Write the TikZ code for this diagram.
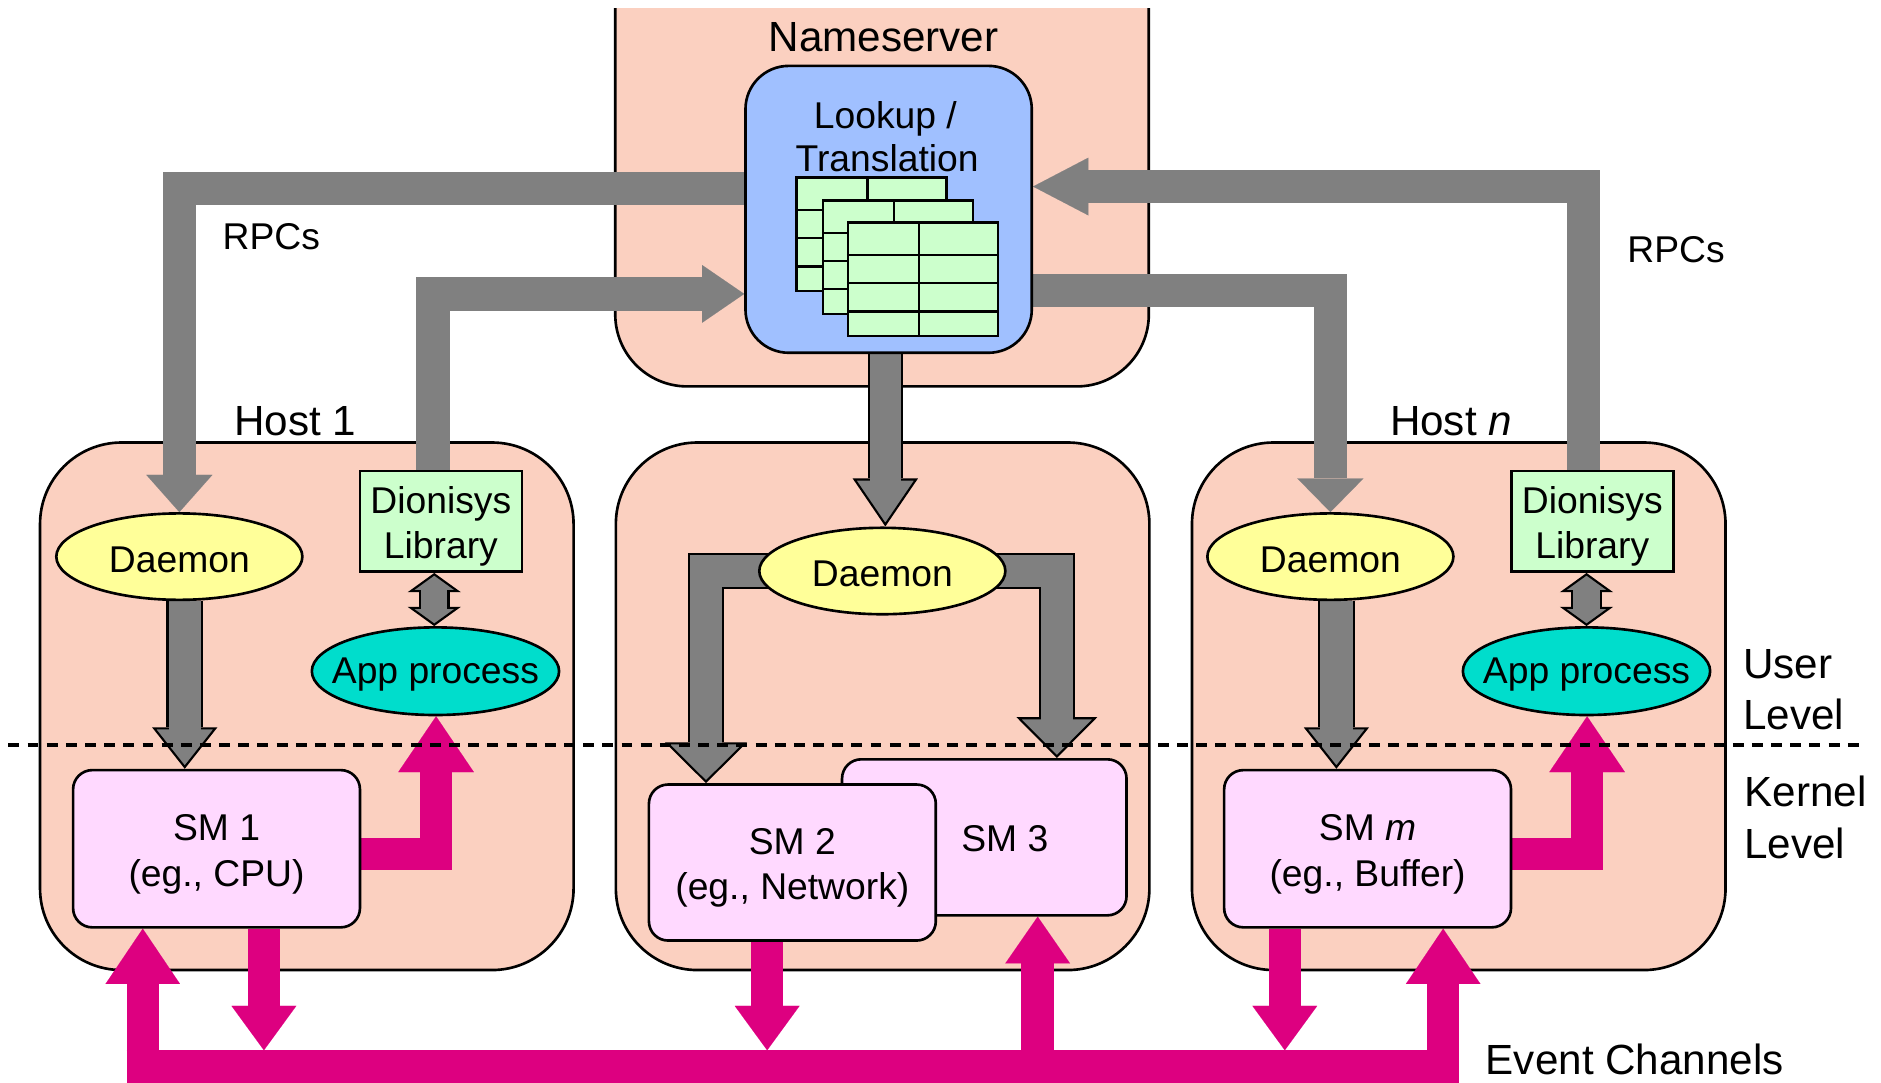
\documentclass[tikz,border=0pt]{standalone}
\usepackage{fontspec}
\setmainfont{Liberation Sans}
\usetikzlibrary{arrows.meta,shapes.geometric,calc}

\definecolor{hostpink}{RGB}{251,208,192}
\definecolor{lookupblue}{RGB}{160,192,255}
\definecolor{tablegreen}{RGB}{204,255,204}
\definecolor{daemonyellow}{RGB}{255,255,153}
\definecolor{appteal}{RGB}{0,221,204}
\definecolor{smpink}{RGB}{255,217,255}
\definecolor{arrowgray}{RGB}{128,128,128}
\definecolor{evmagenta}{RGB}{221,0,128}

\pgfdeclarelayer{boxes}
\pgfdeclarelayer{links}
\pgfdeclarelayer{over}
\pgfsetlayers{boxes,links,main,over}

\newcommand\bodyfont{\fontsize{10.6}{12.6}\selectfont}
\newcommand\headfont{\fontsize{12}{14.5}\selectfont}

% block arrow without outline: #1 colour, #2 shaft, #3 tip length, #4 tip width (drawing units), #5 path
\newcommand\plainarrow[5]{%
  \pgfmathsetmacro\arSW{#2*0.34143}%
  \pgfmathsetmacro\arTL{#3*0.34143}%
  \pgfmathsetmacro\arTW{#4*0.34143}%
  \draw[#1, line width=\arSW pt, line join=miter,
        -{Triangle[length=\arTL pt, width=\arTW pt, line width=0.01pt]}] #5;
}
% grey block arrow with a thin black outline
\newcommand\outlinedarrow[4]{%
  \pgfmathsetmacro\arSW{#1*0.34143}%
  \pgfmathsetmacro\arTL{#2*0.34143}%
  \pgfmathsetmacro\arTW{#3*0.34143}%
  \draw[black, line width=\arSW pt+1.2pt, line join=miter, shorten >=\arTL pt] #4;
  \draw[black, line width=\arSW pt, line join=miter,
        -{Triangle[length=\arTL pt, width=\arTW pt, line width=0.6pt, fill=arrowgray]}] #4;
  \draw[arrowgray, line width=\arSW pt, line join=miter, shorten >=\arTL pt-1.2pt] #4;
}
% outlined grey arrow with a head at both ends
\newcommand\outlineddouble[4]{%
  \pgfmathsetmacro\arSW{#1*0.34143}%
  \pgfmathsetmacro\arTL{#2*0.34143}%
  \pgfmathsetmacro\arTW{#3*0.34143}%
  \draw[black, line width=\arSW pt+1.2pt, shorten >=\arTL pt, shorten <=\arTL pt] #4;
  \draw[black, line width=\arSW pt,
        {Triangle[length=\arTL pt, width=\arTW pt, line width=0.6pt, fill=arrowgray]}-{Triangle[length=\arTL pt, width=\arTW pt, line width=0.6pt, fill=arrowgray]}] #4;
  \draw[arrowgray, line width=\arSW pt, shorten >=\arTL pt-1.2pt, shorten <=\arTL pt-1.2pt] #4;
}
% inner rules of a translation table
\newcommand\tablerules[1]{%
  \draw[line width=0.7pt] ([xshift=0.72cm]#1.north west) -- ([xshift=0.72cm]#1.south west);
  \foreach \rowy in {0.336,0.618,0.9}{%
    \draw[line width=0.7pt] ([yshift=-\rowy cm]#1.north west) -- ([yshift=-\rowy cm]#1.north east);}
}

\begin{document}
\begin{tikzpicture}[x=0.012cm, y=-0.012cm,
  hostbox/.style={draw=black, line width=0.75pt, fill=hostpink, rounded corners=0.816cm,
    minimum width=5.334cm, minimum height=5.274cm, inner sep=0pt},
  lookupbox/.style={draw=black, line width=0.75pt, fill=lookupblue, rounded corners=0.432cm,
    minimum width=2.862cm, minimum height=2.868cm, inner sep=0pt},
  tbl/.style={draw=black, line width=0.7pt, fill=tablegreen, anchor=north west,
    minimum width=1.5cm, minimum height=1.134cm, inner sep=0pt},
  daemon/.style={ellipse, draw=black, line width=0.75pt, fill=daemonyellow,
    minimum width=2.46cm, minimum height=0.864cm, inner sep=0pt},
  libbox/.style={draw=black, line width=0.75pt, fill=tablegreen,
    minimum width=1.62cm, minimum height=1.008cm, inner sep=0pt},
  appnode/.style={ellipse, draw=black, line width=0.75pt, fill=appteal,
    minimum width=2.472cm, minimum height=0.876cm, inner sep=0pt},
  smbox/.style={draw=black, line width=0.75pt, fill=smpink, rounded corners=0.192cm,
    minimum width=2.868cm, minimum height=1.572cm, inner sep=0pt},
  bodytxt/.style={inner sep=0pt, font=\bodyfont},
  twoline/.style={inner sep=0pt, align=center, font=\fontsize{10.6}{12.9}\selectfont},
  headtxt/.style={inner sep=0pt, font=\headfont}
]
\useasboundingbox (0,0) rectangle (1568,902);

% ---------- enclosing boxes ----------
\begin{pgfonlayer}{boxes}
  \begin{scope}
    \clip (0,7) rectangle (1568,902);
    \node[hostbox, minimum width=5.334cm, minimum height=4.824cm,
          rounded corners=0.72cm] (ns) at (735.25,121) {};
  \end{scope}
  \node[hostbox] (host1) at (255.75,588.75) {};
  \node[hostbox] (hostM) at (735.75,588.75) {};
  \node[hostbox] (hostN) at (1216,588.75) {};
\end{pgfonlayer}

% ---------- nameserver ----------
\node[headtxt, anchor=base] (nslbl) at (736.5,43) {Nameserver};
\node[lookupbox] (lookup) at (740.75,174.5) {};
\node[bodytxt, anchor=base] (lk1) at (738,107) {Lookup /};
\node[bodytxt, anchor=base] (lk2) at (739.5,143) {Translation};
\node[tbl] (tab1) at (663,147) {};
\tablerules{tab1}
\node[tbl] (tab2) at (685,166) {};
\tablerules{tab2}
\node[tbl] (tab3) at (706,184.5) {};
\tablerules{tab3}

% ---------- host 1 ----------
\node[headtxt, anchor=base] (h1lbl) at (246,363) {Host 1};
\node[daemon] (daemon1) at (149.5,464) {};
\node[bodytxt] (daemon1t) at ([yshift=-0.03cm]daemon1.center) {Daemon};
\node[libbox] (lib1) at (367.5,434.5) {};
\node[twoline] (lib1t) at ([yshift=-0.05cm]lib1.center) {Dionisys\\Library};
\node[appnode] (app1) at (363,559.5) {};
\node[bodytxt] (app1t) at ([yshift=-0.03cm]app1.center) {App process};
\node[smbox] (sm1) at (180.5,707.5) {};
\node[twoline] (sm1t) at ([yshift=-0.055cm]sm1.center) {SM 1\\(eg., CPU)};

% ---------- middle host ----------
\node[daemon] (daemonM) at (735.5,476) {};
\node[bodytxt] (daemonMt) at ([yshift=-0.03cm]daemonM.center) {Daemon};
\node[smbox, minimum width=2.844cm, minimum height=1.56cm] (sm3) at (820.5,698) {};
\node[bodytxt] (sm3t) at (837.6,699) {SM 3};
\node[smbox, minimum height=1.56cm] (sm2) at (660.5,719) {};
\node[twoline] (sm2t) at ([yshift=-0.055cm]sm2.center) {SM 2\\(eg., Network)};

% ---------- host n ----------
\node[headtxt, anchor=base] (hNlbl) at (1209.5,363) {Host \textit{n}};
\node[daemon] (daemonN) at (1109,464) {};
\node[bodytxt] (daemonNt) at ([yshift=-0.03cm]daemonN.center) {Daemon};
\node[libbox] (libN) at (1327.3,434.5) {};
\node[twoline] (libNt) at ([yshift=-0.05cm]libN.center) {Dionisys\\Library};
\node[appnode] (appN) at (1322.5,559.5) {};
\node[bodytxt] (appNt) at ([yshift=-0.03cm]appN.center) {App process};
\node[smbox] (smm) at (1140,707.5) {};
\node[twoline] (smmt) at ([yshift=-0.055cm]smm.center) {SM \textit{m}\\(eg., Buffer)};

% ---------- side labels ----------
\node[bodytxt, anchor=base west] (rpcL) at (185,208) {RPCs};
\node[bodytxt, anchor=base west] (rpcR) at (1356,219) {RPCs};
\node[headtxt, anchor=base west] (usr1) at (1452.6,565.5) {User};
\node[headtxt, anchor=base west] (usr2) at (1452.6,608) {Level};
\node[headtxt, anchor=base west] (krn1) at (1453.6,672.5) {Kernel};
\node[headtxt, anchor=base west] (krn2) at (1453.6,715.8) {Level};
\node[headtxt, anchor=base west] (evlbl) at (1238,896) {Event Channels};

% ---------- bend points and levels ----------
\coordinate (r1y) at (0,157);
\coordinate (r2x) at (361,0);
\coordinate (r2y) at (0,245);
\coordinate (r3y) at (0,242);
\coordinate (r4x) at (1320,0);
\coordinate (r4y) at (0,155.5);
\coordinate (gx) at (738,0);
\coordinate (g2x) at (154,0);
\coordinate (g3x) at (1114,0);
\coordinate (g4x) at (588.5,0);
\coordinate (g5x) at (881,0);
\coordinate (dx1) at (362,0);
\coordinate (dxN) at (1322.5,0);
\coordinate (my) at (0,712);
\coordinate (m1x) at (363.5,0);
\coordinate (m2x) at (1323,0);
\coordinate (busL) at (105.5,889);
\coordinate (busR) at (1216.5,889);
\coordinate (bustop) at (0,875.5);
\coordinate (e1) at (119,0);
\coordinate (e2) at (220,0);
\coordinate (e3) at (639.5,0);
\coordinate (e4) at (865,0);
\coordinate (e5) at (1071,0);
\coordinate (e6) at (1203,0);
\coordinate (dashL) at (7,621);
\coordinate (dashR) at (1554,621);

\begin{pgfonlayer}{links}
  % RPC traffic between the hosts and the nameserver
  \plainarrow{arrowgray}{28}{31}{55}{(lookup.west |- r1y) -- (daemon1.north |- r1y) -- (daemon1.north)}
  \plainarrow{arrowgray}{28}{35}{48}{(lib1.north -| r2x) -- (r2x |- r2y) -- (lookup.west |- r2y)}
  \plainarrow{arrowgray}{28}{28}{55}{(lookup.east |- r3y) -- (daemonN.north |- r3y) -- (daemonN.north)}
  \plainarrow{arrowgray}{28}{46}{48}{(libN.north -| r4x) -- (r4x |- r4y) -- (lookup.east |- r4y)}

  % daemons to state managers
  \outlinedarrow{26}{40}{54}{(lookup.south -| gx) -- (daemonM.north -| gx)}
  \outlinedarrow{27}{34.5}{54}{(daemon1.south -| g2x) -- (sm1.north -| g2x)}
  \outlinedarrow{27}{34.5}{54}{(daemonN.south -| g3x) -- (smm.north -| g3x)}
  \outlinedarrow{27}{34}{68}{(daemonM.center) -- (g4x |- daemonM.center) -- (sm2.north -| g4x)}
  \outlinedarrow{27}{34}{67}{(daemonM.center) -- (g5x |- daemonM.center) -- (sm3.north -| g5x)}

  % library <-> application
  \outlineddouble{22}{16}{44}{(lib1.south -| dx1) -- (app1.north -| dx1)}
  \outlineddouble{22}{16}{44}{(libN.south -| dxN) -- (appN.north -| dxN)}

  % kernel events up to the applications
  \plainarrow{evmagenta}{27}{46.5}{63}{(sm1.east |- my) -- (m1x |- my) -- (app1.south -| m1x)}
  \plainarrow{evmagenta}{27}{46.5}{63}{(smm.east |- my) -- (m2x |- my) -- (appN.south -| m2x)}

  % event channel bus
  \draw[evmagenta, line width=9.22pt] (busL) -- (busR);
  \plainarrow{evmagenta}{27}{46}{62}{(e1 |- busL) -- (sm1.south -| e1)}
  \plainarrow{evmagenta}{27}{37}{54}{(sm1.south -| e2) -- (e2 |- bustop)}
  \plainarrow{evmagenta}{27}{37}{54}{(sm2.south -| e3) -- (e3 |- bustop)}
  \plainarrow{evmagenta}{27}{39}{54}{(e4 |- busL) -- (sm3.south -| e4)}
  \plainarrow{evmagenta}{27}{37}{54}{(smm.south -| e5) -- (e5 |- bustop)}
  \plainarrow{evmagenta}{27}{46}{62}{(e6 |- busL) -- (smm.south -| e6)}
\end{pgfonlayer}

% user / kernel boundary
\begin{pgfonlayer}{over}
  \draw[line width=0.95pt, dash pattern=on 3.1pt off 2.35pt] (dashL) -- (dashR);
\end{pgfonlayer}
\end{tikzpicture}
\end{document}
